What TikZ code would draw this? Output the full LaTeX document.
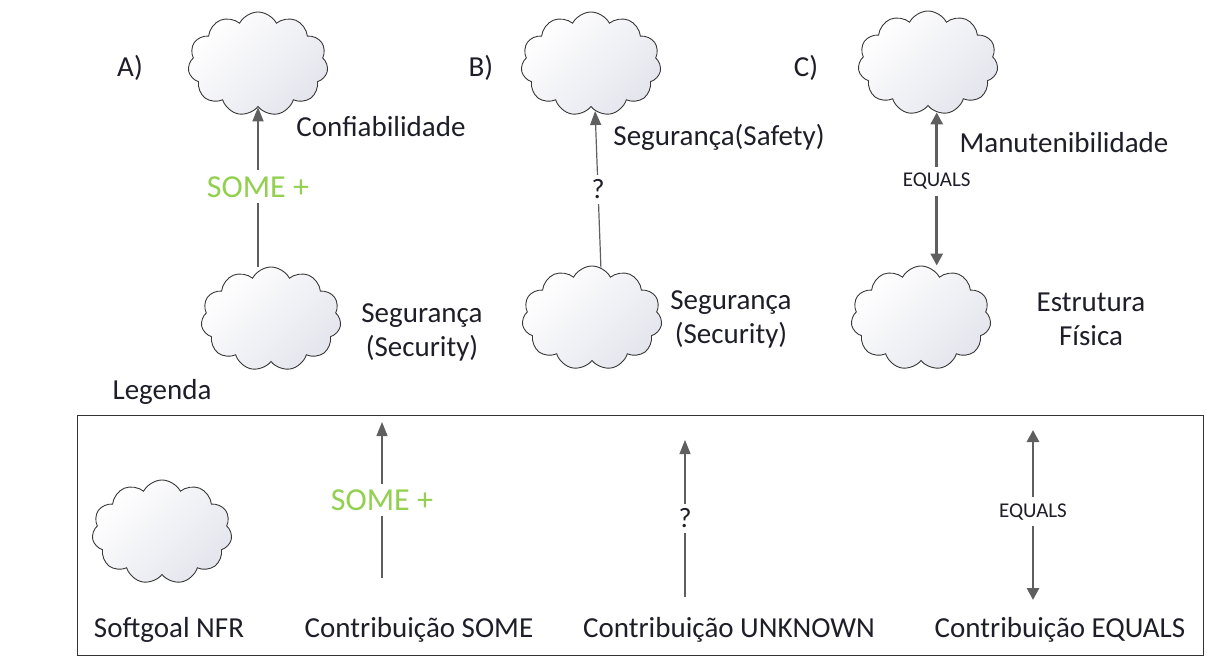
\documentclass[tikz,border=0pt]{standalone}
\usepackage{fontspec}
\setmainfont{Carlito}
\usetikzlibrary{shapes.symbols,arrows.meta}
\definecolor{someGreen}{RGB}{146,208,80}
\definecolor{arrowGray}{RGB}{95,95,95}
\definecolor{cloudShade}{RGB}{228,229,237}
\definecolor{textDark}{RGB}{30,30,40}
\tikzset{
  softgoal/.style={cloud, cloud puffs=11, cloud puff arc=125, cloud ignores aspect,
    minimum width=140pt, minimum height=104pt, inner sep=0pt,
    draw={rgb,255:red,55;green,55;blue,55}, line width=0.9pt,
    top color=white, bottom color=cloudShade, shading angle=45},
  lbl/.style={text=textDark, font=\fontsize{29}{34}\selectfont, inner sep=1pt, align=center},
  contrib/.style={draw=arrowGray, line width=1.2pt, -{Triangle[length=14pt,width=11pt]}},
  equalsArrow/.style={draw=arrowGray, line width=2.8pt,
    {Triangle[length=12pt,width=12pt]}-{Triangle[length=12pt,width=12pt]}},
  someLbl/.style={text=someGreen, font=\fontsize{32}{36}\selectfont, fill=white, inner sep=6pt},
  unkLbl/.style={text=textDark, font=\fontsize{28}{34}\selectfont, fill=white, inner sep=5pt},
  eqLbl/.style={text=textDark, font=\fontsize{21}{24}\selectfont, fill=white, inner sep=6pt},
}
\begin{document}
\begin{tikzpicture}[x=1pt,y=1pt,yscale=-1,xscale=1]
    \useasboundingbox (0,0) rectangle (1228,668);

    %Shape: Cloud A
    \node [softgoal] (aHigh) at (258,64) {};
    \node [softgoal] (aLow) at (271,319) {};
    %Shape: Cloud B
    \node [softgoal] (bHigh) at (591,64) {};
    \node [softgoal] (bLow) at (592,318) {};
    %Shape: Cloud C
    \node [softgoal] (cHigh) at (928,63) {};
    \node [softgoal] (cLow) at (921,318) {};

    %Straight Lines A
    \draw [contrib] (aLow.north -| aHigh.south) -- (aHigh.south) node [someLbl, midway] (aSome) {SOME +};
    %Straight Lines B
    \draw [contrib] (bLow.80) -- (bHigh.-85) node [unkLbl, midway] (bUnk) {?};
    %Straight Lines C
    \draw [equalsArrow] (cHigh.-80) -- (cHigh.-80 |- cLow.north) node [eqLbl, pos=0.45] (cEq) {EQUALS};

    % Text Node
    \node [lbl] (aTag) at (130,68) {A)};
    % Text Node
    \node [lbl] (bTag) at (481,68) {B)};
    % Text Node
    \node [lbl] (cTag) at (806,68) {C)};
    % Text Node
    \node [lbl] (aHighTxt) at (381,127) {Confiabilidade};
    % Text Node
    \node [lbl] (aLowTxt) at (422,332) {Segurança\\(Security)};
    % Text Node
    \node [lbl] (bHighTxt) at (719,137) {Segurança(Safety)};
    % Text Node
    \node [lbl] (bLowTxt) at (731,319) {Segurança\\(Security)};
    % Text Node
    \node [lbl] (cHighTxt) at (1064,143) {Manutenibilidade};
    % Text Node
    \node [lbl] (cLowTxt) at (1091,319) {Estrutura\\Física};

    % Legend
    \node [lbl] (legTitle) at (162,392) {Legenda};
    \draw [line width=1pt, draw=black!80] (77,415) rectangle (1203,655);
    \node [softgoal] (legCloud) at (162,532) {};
    \coordinate (someBase) at (382,578);
    \coordinate (someTip) at (382,422);
    \draw [contrib] (someBase) -- (someTip) node [someLbl, midway] (legSome) {SOME +};
    \coordinate (unkBase) at (685,597);
    \coordinate (unkTip) at (685,440);
    \draw [contrib] (unkBase) -- (unkTip) node [unkLbl, midway] (legUnk) {?};
    \coordinate (eqTop) at (1033,430);
    \coordinate (eqBot) at (1033,600);
    \draw [equalsArrow] (eqTop) -- (eqBot) node [eqLbl, pos=0.48] (legEq) {EQUALS};

    % Text Node
    \node [lbl] (legCloudTxt) at (169,630) {Softgoal NFR};
    % Text Node
    \node [lbl] (legSomeTxt) at (419,630) {Contribuição SOME};
    % Text Node
    \node [lbl] (legUnkTxt) at (729,630) {Contribuição UNKNOWN};
    % Text Node
    \node [lbl] (legEqTxt) at (1060,630) {Contribuição EQUALS};
\end{tikzpicture}
\end{document}
